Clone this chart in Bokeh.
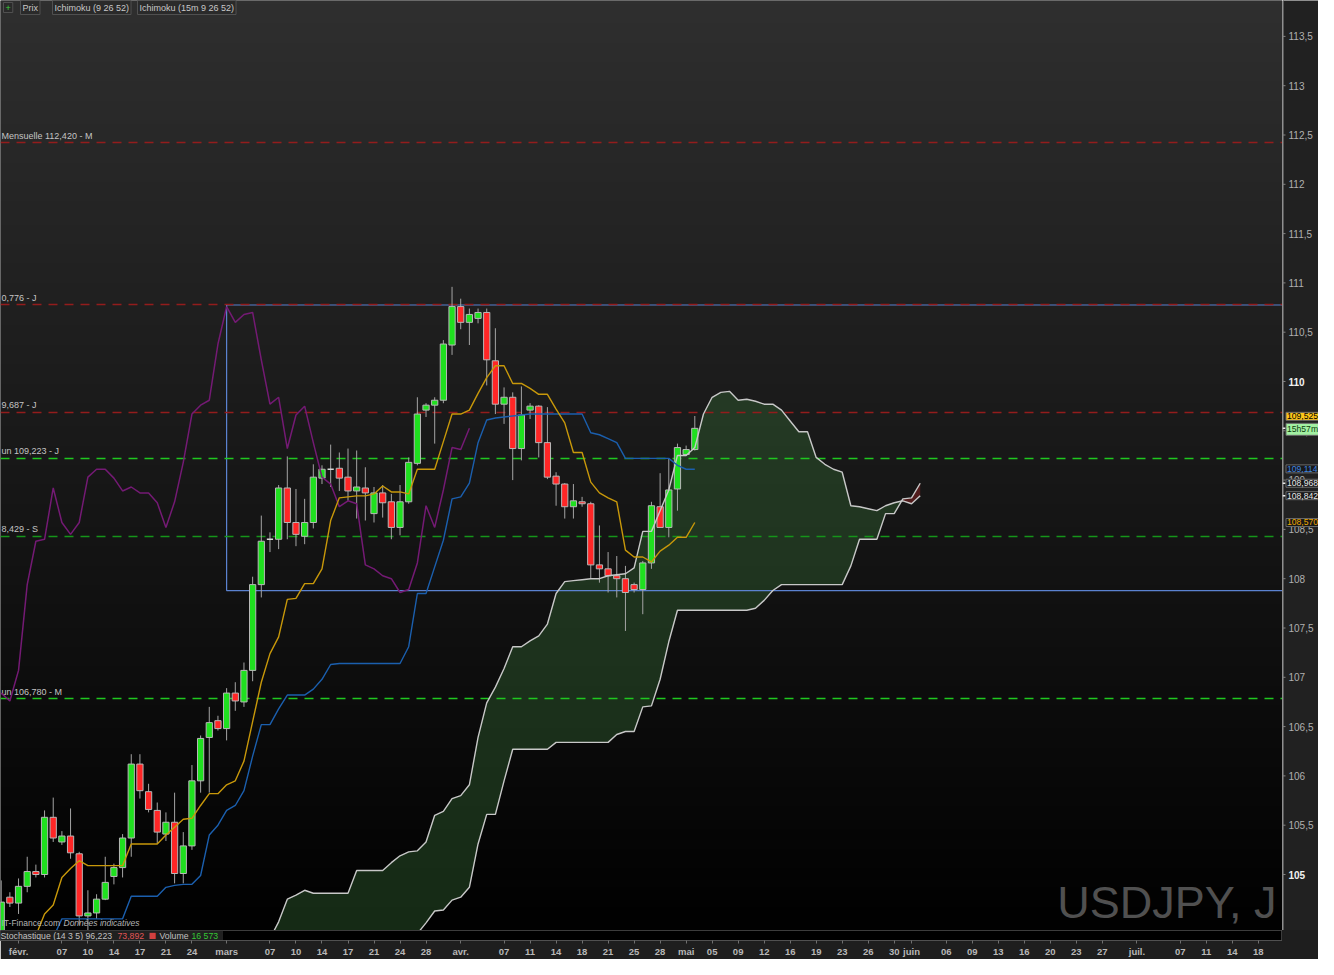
import numpy as np
from bokeh.plotting import figure
from bokeh.layouts import column, row
from bokeh.models import Label, FixedTicker, Range1d, BoxAnnotation, Spacer
from bokeh.core.properties import value
from bokeh.embed import file_html
from bokeh.resources import INLINE

# USD/JPY daily, bar 0 = Fri 29 Jan 2021 (6 bars a week, Sun-Fri)
opens = [104.23, 104.77, 104.71, 104.88, 105.03, 105.00, 105.58, 105.33, 105.39, 105.21,
         104.58, 104.61, 104.75, 104.98, 105.07, 105.37, 106.12, 105.84, 105.65, 105.41,
         105.53, 105.01, 105.29, 105.95, 106.39, 106.56, 106.48, 106.84, 106.75, 107.07,
         107.94, 108.40, 108.40, 108.92, 108.57, 108.43, 108.57, 109.02, 109.11, 109.12,
         109.03, 108.89, 108.92, 108.66, 108.87, 108.78, 108.52, 108.78, 109.17, 109.71,
         109.76, 109.81, 110.37, 110.76, 110.60, 110.64, 110.70, 110.21, 109.77, 109.84,
         109.32, 109.71, 109.75, 109.38, 109.04, 108.96, 108.73, 108.78, 108.76, 108.14,
         108.10, 108.03, 108.00, 107.94, 107.89, 108.16, 108.73, 108.52, 108.91, 109.26,
         109.31]
highs = [104.94, 104.82, 104.96, 105.18, 105.10, 105.65, 105.78, 105.44, 105.67, 105.23,
         104.84, 104.80, 105.18, 105.11, 105.41, 106.22, 106.22, 105.92, 105.73, 105.63,
         105.83, 105.43, 106.11, 106.41, 106.70, 106.61, 106.89, 106.95, 107.15, 108.02,
         108.64, 108.47, 108.95, 109.24, 108.91, 108.81, 109.16, 109.15, 109.36, 109.28,
         109.32, 109.30, 109.13, 108.93, 108.95, 108.86, 108.95, 109.23, 109.84, 109.78,
         109.84, 110.42, 110.96, 110.84, 110.74, 110.74, 110.74, 110.54, 109.94, 109.89,
         109.95, 109.78, 109.76, 109.74, 109.08, 108.97, 108.96, 108.83, 108.78, 108.54,
         108.27, 108.23, 108.13, 107.96, 108.18, 108.78, 109.07, 109.22, 109.37, 109.35,
         109.65]
lows = [104.10, 104.67, 104.60, 104.82, 104.97, 104.97, 105.33, 105.30, 105.16, 104.49,
        104.40, 104.55, 104.74, 104.90, 104.97, 105.18, 105.77, 105.63, 105.31, 105.34,
        104.91, 104.91, 105.25, 105.83, 105.83, 106.46, 106.36, 106.66, 106.70, 106.96,
        107.81, 108.27, 108.30, 108.40, 108.33, 108.35, 108.51, 108.96, 108.93, 108.89,
        108.79, 108.61, 108.59, 108.57, 108.62, 108.40, 108.44, 108.76, 109.15, 109.64,
        109.37, 109.78, 110.27, 110.53, 110.37, 110.59, 109.96, 109.67, 109.57, 109.00,
        109.20, 109.62, 109.23, 109.01, 108.74, 108.61, 108.61, 108.73, 108.00, 107.96,
        107.86, 107.81, 107.47, 107.86, 107.64, 108.10, 108.52, 108.42, 108.69, 109.25,
        109.30]
closes = [104.72, 104.71, 104.88, 105.03, 105.00, 105.58, 105.37, 105.39, 105.22, 104.58,
          104.61, 104.75, 104.92, 105.07, 105.37, 106.12, 105.85, 105.66, 105.43, 105.53,
          105.01, 105.29, 105.95, 106.38, 106.54, 106.48, 106.84, 106.76, 107.07, 107.94,
          108.38, 108.40, 108.92, 108.57, 108.45, 108.57, 109.03, 109.11, 109.11, 109.02,
          108.89, 108.93, 108.87, 108.87, 108.77, 108.52, 108.78, 109.18, 109.67, 109.76,
          109.81, 110.38, 110.76, 110.60, 110.68, 110.70, 110.22, 109.77, 109.84, 109.32,
          109.66, 109.75, 109.38, 109.03, 108.96, 108.73, 108.79, 108.76, 108.14, 108.10,
          108.03, 108.00, 107.86, 107.89, 108.16, 108.74, 108.52, 108.90, 109.33, 109.31,
          109.525]

# Ichimoku (9 26 52)
tenkan = [104.10, 104.20, 104.36, 104.36, 104.38, 104.60, 104.69, 104.97, 105.06, 105.14,
          105.09, 105.09, 105.09, 105.09, 105.09, 105.31, 105.31, 105.31, 105.31, 105.40,
          105.48, 105.56, 105.57, 105.70, 105.82, 105.82, 105.91, 105.95, 106.15, 106.55,
          106.95, 107.24, 107.41, 107.79, 107.80, 107.95, 107.95, 108.10, 108.59, 108.82,
          108.83, 108.84, 108.84, 108.86, 108.94, 108.88, 108.88, 108.86, 109.11, 109.11,
          109.11, 109.39, 109.67, 109.67, 109.71, 109.88, 110.04, 110.16, 110.16, 109.98,
          109.98, 109.93, 109.87, 109.87, 109.72, 109.58, 109.28, 109.28, 108.98, 108.87,
          108.82, 108.78, 108.29, 108.22, 108.22, 108.17, 108.28, 108.34, 108.42, 108.42,
          108.57]
kijun = [104.10, 104.10, 104.10, 104.10, 104.10, 104.10, 104.36, 104.55, 104.55, 104.55,
         104.55, 104.55, 104.55, 104.55, 104.55, 104.78, 104.78, 104.78, 104.78, 104.87,
         104.89, 104.90, 104.90, 104.99, 105.40, 105.50, 105.65, 105.70, 105.85, 106.20,
         106.52, 106.52, 106.68, 106.82, 106.82, 106.82, 106.88, 106.98, 107.13, 107.14,
         107.14, 107.14, 107.14, 107.14, 107.14, 107.14, 107.14, 107.31, 107.85, 107.85,
         108.12, 108.39, 108.81, 108.83, 108.97, 109.38, 109.61, 109.63, 109.64, 109.65,
         109.66, 109.67, 109.67, 109.67, 109.67, 109.67, 109.67, 109.67, 109.48, 109.46,
         109.42, 109.38, 109.22, 109.22, 109.22, 109.22, 109.22, 109.22, 109.15, 109.11,
         109.11]
CHIKOU_LAG = 26
CLOUD_START = 30  # first bar of the spans
span_a = [104.10, 104.35, 104.52, 104.75, 104.79, 104.84, 104.81, 104.81, 104.81, 104.81,
          104.81, 105.04, 105.04, 105.04, 105.04, 105.12, 105.19, 105.23, 105.24, 105.33,
          105.60, 105.64, 105.77, 105.80, 105.91, 106.39, 106.74, 106.90, 107.09, 107.31,
          107.31, 107.37, 107.42, 107.54, 107.85, 107.97, 107.98, 107.99, 108.00, 108.00,
          108.03, 108.04, 108.05, 108.11, 108.48, 108.48, 108.69, 108.90, 109.25, 109.25,
          109.33, 109.67, 109.84, 109.89, 109.90, 109.81, 109.82, 109.80, 109.77, 109.77,
          109.71, 109.60, 109.49, 109.49, 109.23, 109.16, 109.11, 109.08, 108.74, 108.73,
          108.71, 108.69, 108.74, 108.77, 108.79, 108.76, 108.842]
span_b = [103.60, 103.60, 103.60, 103.60, 103.60, 103.60, 103.60, 103.60, 103.60, 103.60,
          103.90, 104.40, 104.40, 104.40, 104.40, 104.40, 104.40, 104.40, 104.40, 104.51,
          104.63, 104.64, 104.74, 104.77, 104.87, 105.31, 105.61, 105.61, 105.95, 106.27,
          106.27, 106.27, 106.27, 106.27, 106.34, 106.34, 106.34, 106.34, 106.34, 106.34,
          106.34, 106.42, 106.45, 106.45, 106.70, 106.71, 106.98, 107.36, 107.68, 107.68,
          107.68, 107.68, 107.68, 107.68, 107.68, 107.68, 107.68, 107.70, 107.78, 107.88,
          107.94, 107.94, 107.94, 107.94, 107.94, 107.94, 107.94, 107.94, 108.13, 108.40,
          108.40, 108.40, 108.66, 108.66, 108.81, 108.82, 108.968]

# pivots / supports drawn as horizontal lines
levels = [112.420, 110.776, 109.687, 109.223, 108.429, 106.780]
level_labels = ["Mensuelle 112,420 - M", "0,776 - J", "9,687 - J",
                "un 109,223 - J", "8,429 - S", "un 106,780 - M"]
level_colors = ["#931c1c", "#931c1c", "#931c1c", "#1fc81f", "#15951a", "#1fc81f"]

# zone drawn from 1 March
rect_left = 26
rect_top = 110.776
rect_bottom = 107.88

price_ticks = [105.0, 105.5, 106.0, 106.5, 107.0, 107.5, 108.0, 108.5, 109.0,
               109.5, 110.0, 110.5, 111.0, 111.5, 112.0, 112.5, 113.0, 113.5]
bold_ticks = [105.0, 110.0]

tick_pos = [2, 7, 10, 13, 16, 19, 22,
            26, 31, 34, 37, 40, 43, 46, 49,
            53, 58, 61, 64, 67, 70, 73, 76,
            79, 82, 85, 88, 91, 94, 97, 100, 103,
            105, 109, 112, 115, 118, 121, 124, 127,
            131, 136, 139, 142, 145, 148]
tick_labels = ["févr.", "07", "10", "14", "17", "21", "24",
               "mars", "07", "10", "14", "17", "21", "24", "28",
               "avr.", "07", "11", "14", "18", "21", "25", "28",
               "mai", "05", "09", "12", "16", "19", "23", "26", "30",
               "juin", "06", "09", "13", "16", "20", "23", "27",
               "juil.", "07", "11", "14", "18", "21"]

# right-hand price tags
tag_values = [109.525, 109.525, 109.114, 108.968, 108.842, 108.570]
tag_texts = ["109,525", "15h57m", "109,114", "108,968", "108,842", "108,570"]
marker_values = [109.525, 108.968, 108.842]

# ---------------------------------------------------------------- layout
PX_BAR = 8.67   # px per bar
PX_YEN = 98.6   # px per yen
FONT = "Liberation Sans"


def px2x(px):
    return (px - 0.7) / PX_BAR


def px2y(py):
    return 110 - (py - 381) / PX_YEN


W, H_MAIN, H_BOT, AXIS_W = 1318, 930, 29, 36
FRAME_W = W - AXIS_W
x_start = px2x(0)
x_end = px2x(FRAME_W)
y_end = px2y(0)
y_start = px2y(H_MAIN)

p = figure(width=FRAME_W, height=H_MAIN,
           x_range=Range1d(x_start, x_end), y_range=Range1d(y_start, y_end),
           x_axis_location=None, y_axis_location=None,
           output_backend="svg", toolbar_location=None, min_border=0,
           background_fill_color="#000000", border_fill_color="#000000",
           outline_line_color=None)
p.grid.visible = False

# grey-to-black backdrop
n = 240
shade = np.linspace(1, 47, n).astype(np.uint8)
img = np.zeros((n, 1, 4), dtype=np.uint8)
img[:, 0, 0] = shade
img[:, 0, 1] = shade
img[:, 0, 2] = shade
img[:, 0, 3] = 255
bg = p.image_rgba(image=[img.view(np.uint32).reshape(n, 1)], x=x_start, y=y_start,
                  dw=x_end - x_start, dh=y_end - y_start)
bg.level = "image"

# kumo
kc = np.arange(CLOUD_START, CLOUD_START + len(span_a))
A = np.array(span_a)
B = np.array(span_b)
twist = int(np.argmax(A < B))
p.varea(x=kc[:twist + 1], y1=A[:twist + 1], y2=B[:twist + 1],
        fill_color="#326432", fill_alpha=0.42)
p.varea(x=kc[twist:], y1=A[twist:], y2=B[twist:], fill_color="#7a2020", fill_alpha=0.6)

# zone + horizontal levels
p.quad(left=[rect_left], right=[x_end + 5], bottom=[rect_bottom], top=[rect_top],
       fill_alpha=0, line_color="#5b82d0", line_width=1.2)
p.hspan(y=levels, line_color=level_colors, line_width=1.4, line_dash="9 7")
p.text(x=[x_start] * len(levels), y=levels, text=level_labels,
       x_offset=1, y_offset=-2, text_baseline="bottom",
       text_font=value(FONT), text_font_size="9px", text_color="#c4c4c4")

# candles
k = np.arange(len(closes))
o, h, l, c = (np.array(a) for a in (opens, highs, lows, closes))
up, dn, flat = c > o, c < o, c == o
p.segment(k, h, k, l, line_color="#a4a4a4", line_width=1)
p.vbar(x=k[up], width=0.72, bottom=o[up], top=c[up],
       fill_color="#1fe01f", line_color="#b8b8b8", line_width=1)
p.vbar(x=k[dn], width=0.72, bottom=c[dn], top=o[dn],
       fill_color="#ff2626", line_color="#b8b8b8", line_width=1)
p.segment(k[flat] - 0.36, o[flat], k[flat] + 0.36, c[flat],
          line_color="#d8d8d8", line_width=1.5)

# ichimoku lines
p.line(kc, A, line_color="#c8c8c8", line_width=1.4)
p.line(kc, B, line_color="#c8c8c8", line_width=1.4)
p.line(k[CHIKOU_LAG:] - CHIKOU_LAG, c[CHIKOU_LAG:], line_color="#741a74", line_width=1.5)
p.line(k, kijun, line_color="#1b5fae", line_width=1.4)
p.line(k, tenkan, line_color="#c8980a", line_width=1.4)

# texts in the frame
p.text(x=[px2x(1276)], y=[px2y(902)], text=["USDJPY, J"], text_align="right",
       text_baseline="middle", text_font=value(FONT), text_font_size="45px",
       text_color="#505050")
p.text(x=[x_start], y=[px2y(922)], text=["IT-Finance.com"], x_offset=1,
       text_baseline="middle", text_font=value(FONT),
       text_font_size="8.5px", text_color="#b4b4b4")
p.text(x=[x_start], y=[px2y(922)], text=["Données indicatives"], x_offset=63,
       text_baseline="middle", text_font=value(FONT), text_font_size="8.5px",
       text_font_style="italic", text_color="#b4b4b4")

for txt, px, col in [("+", 3, "#3ad13a"), ("Prix", 20, "#c8c8c8"),
                     ("Ichimoku (9 26 52)", 52, "#c8c8c8"),
                     ("Ichimoku (15m 9 26 52)", 137, "#c8c8c8")]:
    p.add_layout(Label(x=px2x(px), y=px2y(7), text=txt, text_font=FONT,
                       text_font_size="9px", text_color=col, text_baseline="middle",
                       background_fill_color="#2a2a2a", border_line_color="#505050",
                       padding=2))

# ---------------------------------------------------------------- price scale (right)
side = figure(width=AXIS_W, height=H_MAIN, x_range=Range1d(0, AXIS_W), y_range=p.y_range,
              x_axis_location=None, y_axis_location=None,
              output_backend="svg", toolbar_location=None, min_border=0,
              background_fill_color="#212121", border_fill_color="#212121",
              outline_line_color=None)
side.grid.visible = False
side.vspan(x=[0.5], line_color="#585858", line_width=1)
side.segment(x0=0, y0=price_ticks, x1=3, y1=price_ticks, line_color="#808080")
plain = [t for t in price_ticks if t not in bold_ticks]
side.text(x=6, y=plain, text=[f"{t:g}".replace(".", ",") for t in plain],
          text_baseline="middle", text_font=value(FONT), text_font_size="10px",
          text_color="#b0b0b0")
side.text(x=6, y=bold_ticks, text=[f"{t:g}" for t in bold_ticks],
          text_baseline="middle", text_font=value(FONT), text_font_size="10px",
          text_font_style="bold", text_color="#f2f2f2")
side.segment(x0=0, y0=marker_values, x1=3, y1=marker_values,
             line_color="#e8e8e8", line_width=1.5)

tag_shift = [12, -1, 0, 0, 0, 0]
tag_fill = ["#ffc61a", "#a2f0a2", "#181818", "#181818", "#181818", "#181818"]
tag_color = ["#000000", "#0d3d0d", "#3f86e0", "#e6e6e6", "#e6e6e6", "#f0a800"]
for v, txt, s, fc, tc in zip(tag_values, tag_texts, tag_shift, tag_fill, tag_color):
    side.add_layout(Label(x=3.5, y=v + s / PX_YEN, text=txt, text_font=FONT,
                          text_font_size="8.6px", text_color=tc, text_baseline="middle",
                          background_fill_color=fc, border_line_color="#6a6a6a",
                          padding=1))

# ---------------------------------------------------------------- bottom strip + dates
b = figure(width=FRAME_W, height=H_BOT, x_range=p.x_range, y_range=Range1d(0, 1),
           y_axis_location=None, output_backend="svg", toolbar_location=None,
           min_border_left=0, min_border_right=0, min_border_top=0, min_border_bottom=0,
           background_fill_color="#000000", border_fill_color="#1e1e1e",
           outline_line_color="#3c3c3c")
b.grid.visible = False
b.add_layout(BoxAnnotation(left=x_start, right=px2x(222),
                           fill_color="#202020", fill_alpha=1,
                           line_color="#4a4a4a", level="underlay"))
for txt, off, col in [("Stochastique (14 3 5) 96,223", 0, "#c0c0c0"),
                      ("73,892", 117, "#e05555"),
                      ("Volume", 159, "#c0c0c0"),
                      ("16 573", 191, "#35c835")]:
    b.text(x=[x_start], y=[0.5], text=[txt], x_offset=off, text_baseline="middle",
           text_font=value(FONT), text_font_size="8.7px", text_color=col)
b.text(x=[x_start], y=[0.5], text=["■"], x_offset=148, text_baseline="middle",
       text_font=value("DejaVu Sans"), text_font_size="8px", text_color="#d04040")

bx = b.xaxis[0]
bx.ticker = FixedTicker(ticks=tick_pos, minor_ticks=[])
bx.major_label_overrides = dict(zip(tick_pos, tick_labels))
bx.major_label_text_font = FONT
bx.major_label_text_font_size = "9.5px"
bx.major_label_text_font_style = "bold"
bx.major_label_text_color = "#b8b8b8"
bx.major_label_standoff = 2
bx.major_tick_out = 3
bx.major_tick_in = 0
bx.major_tick_line_color = "#707070"
bx.axis_line_color = "#505050"

corner = Spacer(width=AXIS_W, height=H_BOT, styles={"background-color": "#1e1e1e"})

layout = column(row(p, side, spacing=0), row(b, corner, spacing=0), spacing=0)
open("out.html", "w").write(file_html(layout, INLINE))
